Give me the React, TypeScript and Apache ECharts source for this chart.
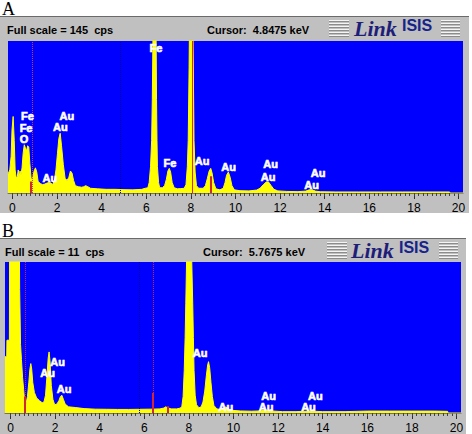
import React, { useEffect, useRef } from 'react';
import * as echarts from 'echarts';

// ---------- data ----------
const TICK_VALUES = [0, 2, 4, 6, 8, 10, 12, 14, 16, 18, 20];
const TICK_LABELS = ['0', '2', '4', '6', '8', '10', '12', '14', '16', '18', '20'];

const FULL_SCALE_A = 145;
const CURSOR_A = 4.8475;
const FULL_SCALE_B = 11;
const CURSOR_B = 5.7675;

// energy (keV), counts (cps)
const SPECTRUM_A: [number, number][] = [
  [-0.2, 18], [-0.12, 22], [-0.06, 35], [-0.02, 60], [0.03, 73], [0.08, 50], [0.12, 22], [0.17, 14],
  [0.22, 16], [0.26, 22], [0.3, 15], [0.34, 21], [0.38, 17], [0.43, 24], [0.48, 38], [0.53, 46],
  [0.58, 43], [0.63, 40], [0.68, 45], [0.73, 44], [0.78, 28], [0.84, 13], [0.9, 14], [0.97, 21],
  [1.03, 24], [1.09, 20], [1.15, 11], [1.25, 9], [1.35, 8], [1.45, 8.5], [1.55, 9.5], [1.65, 10],
  [1.72, 9.5], [1.8, 8], [1.88, 12], [1.95, 22], [2.02, 38], [2.08, 52], [2.14, 57], [2.2, 45],
  [2.28, 27], [2.36, 14], [2.45, 12], [2.53, 15], [2.6, 21], [2.67, 19], [2.74, 12], [2.82, 7],
  [2.95, 6], [3.1, 5.5], [3.2, 6], [3.28, 7], [3.38, 6], [3.5, 4.5], [3.8, 4], [4.2, 3.5],
  [4.6, 3.5], [5.0, 3.2], [5.4, 3], [5.8, 3.5], [5.95, 4.5], [6.07, 5], [6.13, 10], [6.19, 25],
  [6.24, 50], [6.27, 89], [6.31, 170], [6.35, 230], [6.41, 230], [6.44, 150], [6.46, 89], [6.48, 50],
  [6.5, 25], [6.55, 10], [6.6, 5], [6.72, 5], [6.82, 7], [6.9, 13], [6.97, 21], [7.03, 23.5],
  [7.09, 20], [7.16, 10], [7.25, 5], [7.4, 4], [7.55, 4.2], [7.7, 4.5], [7.78, 8], [7.84, 25],
  [7.88, 50], [7.92, 120], [7.96, 220], [8.04, 260], [8.09, 160], [8.14, 50], [8.19, 20], [8.25, 7],
  [8.35, 4.5], [8.55, 4.5], [8.65, 7], [8.74, 14], [8.82, 21], [8.89, 23.5], [8.95, 19], [9.02, 10],
  [9.12, 4], [9.3, 3], [9.45, 4.5], [9.53, 10], [9.6, 17], [9.68, 20], [9.76, 15], [9.84, 7],
  [9.95, 3], [10.2, 2.2], [10.6, 2], [10.95, 2.8], [11.1, 4.5], [11.25, 8], [11.38, 10.5], [11.48, 10.5],
  [11.6, 7], [11.72, 3.5], [11.9, 2], [12.3, 1.5], [12.8, 1.3], [13.15, 1.8], [13.3, 3], [13.45, 3],
  [13.58, 1.8], [13.8, 1.2], [14.5, 1], [15.5, 1], [16.5, 1], [17.5, 1], [18.5, 1], [19.6, 1],
  [19.62, 0], [20.2, 0],
];

const SPECTRUM_B: [number, number][] = [
  [-0.247, 4.1], [-0.17, 4.1], [-0.16, 5.3], [-0.05, 5.3], [-0.03, 20], [0.37, 20], [0.41, 9], [0.45, 5],
  [0.49, 3.9], [0.54, 2.6], [0.59, 1.7], [0.64, 0.7], [0.7, 0.7], [0.76, 1.2], [0.82, 2.2], [0.87, 3.2],
  [0.91, 3.6], [0.95, 3.2], [1.0, 2.2], [1.07, 1.5], [1.17, 1.1], [1.3, 0.9], [1.42, 0.75], [1.5, 0.8],
  [1.57, 1.3], [1.63, 2.6], [1.69, 4.0], [1.73, 4.45], [1.77, 3.8], [1.83, 2.0], [1.9, 1.0], [1.98, 0.6],
  [2.08, 0.65], [2.17, 0.9], [2.24, 1.2], [2.3, 1.3], [2.37, 1.0], [2.45, 0.65], [2.6, 0.45], [2.9, 0.4],
  [3.3, 0.32], [3.8, 0.28], [4.3, 0.27], [4.8, 0.26], [5.3, 0.26], [5.8, 0.27], [6.3, 0.28], [6.7, 0.3],
  [6.88, 0.36], [6.96, 0.45], [7.04, 0.38], [7.2, 0.3], [7.45, 0.3], [7.6, 0.35], [7.68, 0.45], [7.74, 1.2],
  [7.79, 3.1], [7.83, 5.5], [7.86, 8], [7.9, 11.5], [7.95, 20], [8.07, 20], [8.12, 11.5], [8.17, 8],
  [8.2, 5.5], [8.23, 3.1], [8.28, 1.3], [8.34, 0.6], [8.45, 0.38], [8.55, 0.45], [8.63, 0.8], [8.71, 1.6],
  [8.78, 2.7], [8.84, 3.5], [8.88, 3.74], [8.93, 3.3], [8.99, 2.2], [9.05, 1.2], [9.12, 0.55], [9.25, 0.3],
  [9.45, 0.25], [9.58, 0.35], [9.66, 0.45], [9.75, 0.32], [9.9, 0.2], [10.3, 0.15], [10.8, 0.13], [11.2, 0.15],
  [11.45, 0.22], [11.7, 0.15], [12.2, 0.1], [12.8, 0.1], [13.4, 0.14], [14, 0.1], [15, 0.1], [16, 0.14],
  [17, 0.14], [18, 0.14], [19, 0.14], [19.6, 0.12], [19.62, 0], [20.2, 0],
];

// peak labels: energy, cps, text
const PEAK_LABELS_A: [number, number, string][] = [
  [0.67, 73.5, 'Fe'], [0.61, 62.3, 'Fe'], [0.52, 51.2, 'O'],
  [2.44, 73.7, 'Au'], [2.15, 63.2, 'Au'], [1.68, 14.6, 'Au'],
  [6.43, 138.6, 'Fe'], [7.06, 28.9, 'Fe'], [8.5, 30.8, 'Au'], [9.69, 25.1, 'Au'],
  [11.57, 27.7, 'Au'], [11.46, 15.5, 'Au'], [13.7, 18.8, 'Au'], [13.41, 7.6, 'Au'],
];
const PEAK_LABELS_B: [number, number, string][] = [
  [2.11, 3.69, 'Au'], [1.66, 2.89, 'Au'], [2.4, 1.73, 'Au'], [8.5, 4.35, 'Au'], [9.66, 0.42, 'Au'],
  [11.57, 1.24, 'Au'], [11.46, 0.42, 'Au'], [13.67, 1.24, 'Au'], [13.36, 0.42, 'Au'],
];

// region markers (keV)
const MARKERS_A = [0.9, 8.04];
const MARKERS_B = [0.66, 6.4];
// short ROI marks: energy, height (cps)
const ROI_A: [number, number][] = [[0.82, 11], [8.9, 16]];
const ROI_B: [number, number][] = [[0.66, 1.2], [6.4, 1.45], [7.07, 0.5]];

const SANS = '"Liberation Sans", Arial, sans-serif';
const SERIF = '"Liberation Serif", "Times New Roman", serif';

function minorTicks(): number[] {
  const out: number[] = [];
  for (let i = 0; i <= 100; i++) out.push(Math.round(i * 2) / 10);
  return out;
}

function stripes(x: number, y0: number, w: number, n: number): any[] {
  const els: any[] = [];
  for (let i = 0; i < n; i++) {
    const y = y0 + i * 3;
    els.push({ type: 'rect', shape: { x, y, width: w, height: 1 }, style: { fill: '#f4f4f4' }, z: 5 });
    els.push({ type: 'rect', shape: { x, y: y + 1, width: w, height: 1 }, style: { fill: '#8c8c8c' }, z: 5 });
  }
  return els;
}

function header(
  top: number, panelW: number, panelH: number, textX: number, textY: number, cursorX: number,
  fullScale: number, cursor: number, stripeL: number, stripeR: number, linkX: number, isisX: number,
  letter: string, letterY: number,
): any[] {
  return [
    { type: 'rect', shape: { x: 0, y: top, width: panelW, height: panelH }, style: { fill: '#c0c0c0' }, z: -10 },
    { type: 'rect', shape: { x: 0, y: top, width: panelW, height: 1 }, style: { fill: '#6a6a6a' }, z: 5 },
    {
      type: 'text', x: textX, y: textY, z: 10,
      style: { text: `Full scale = ${fullScale}  cps`, font: `bold 11px ${SANS}`, fill: '#000', textAlign: 'left', textVerticalAlign: 'middle' },
    },
    {
      type: 'text', x: cursorX, y: textY, z: 10,
      style: { text: `Cursor:  ${cursor.toFixed(4)} keV`, font: `bold 11px ${SANS}`, fill: '#000', textAlign: 'left', textVerticalAlign: 'middle' },
    },
    ...stripes(stripeL, top + 4, 20, 6),
    ...stripes(stripeR, top + 4, 19, 6),
    {
      type: 'text', x: linkX, y: top + 12.5, z: 10,
      style: { text: 'Link', font: `italic bold 22px ${SERIF}`, fill: '#1e1e78', textAlign: 'left', textVerticalAlign: 'middle' },
    },
    {
      type: 'text', x: isisX, y: top + 9.5, z: 10,
      style: { text: 'ISIS', font: `bold 16px ${SANS}`, fill: '#16238a', textAlign: 'left', textVerticalAlign: 'middle' },
    },
    {
      type: 'text', x: 2, y: letterY, z: 10,
      style: { text: letter, font: `18px ${SERIF}`, fill: '#000', textAlign: 'left', textVerticalAlign: 'middle' },
    },
  ];
}

export default function App() {
  const ref = useRef<HTMLDivElement>(null);

  useEffect(() => {
    if (!ref.current) return;
    const chart = echarts.init(ref.current, undefined, { renderer: 'svg' });

    const panels = [
      {
        grid: { left: 8, top: 41, width: 455, height: 152 }, min: -0.2, max: 20.2, ymax: FULL_SCALE_A,
        spectrum: SPECTRUM_A, labels: PEAK_LABELS_A, cursor: CURSOR_A, markers: MARKERS_A, roi: ROI_A,
        markerColor: ['#cc3a6a', '#e0282c'], markerType: ['dotted', 'solid'],
      },
      {
        grid: { left: 5, top: 262, width: 456, height: 151 }, min: -0.247, max: 20.2, ymax: FULL_SCALE_B,
        spectrum: SPECTRUM_B, labels: PEAK_LABELS_B, cursor: CURSOR_B, markers: MARKERS_B, roi: ROI_B,
        markerColor: ['#d02050', '#d02050'], markerType: ['dotted', 'dotted'],
      },
    ];

    const MINOR = minorTicks();
    const xAxis: any[] = [];
    const yAxis: any[] = [];
    const series: any[] = [];

    panels.forEach((p, i) => {
      xAxis.push({
        type: 'value', gridIndex: i, min: p.min, max: p.max, position: 'bottom',
        axisLine: { show: true, lineStyle: { color: '#707070', width: 1 } },
        axisTick: { show: true, customValues: TICK_VALUES, length: 6, lineStyle: { color: '#303030' } },
        axisLabel: {
          show: true, customValues: TICK_VALUES, margin: 9, color: '#000', fontSize: 12, fontFamily: SANS,
          formatter: (v: number) => {
            const k = TICK_VALUES.indexOf(v);
            return k >= 0 ? TICK_LABELS[k] : '';
          },
        },
        splitLine: { show: false },
      });
      xAxis.push({
        type: 'value', gridIndex: i, min: p.min, max: p.max, position: 'bottom', offset: 0,
        axisLine: { show: false },
        axisTick: { show: true, customValues: MINOR, length: 3, lineStyle: { color: '#404040' } },
        axisLabel: { show: false },
        splitLine: { show: false },
      });
      yAxis.push({ type: 'value', gridIndex: i, min: 0, max: p.ymax, show: false, splitLine: { show: false } });

      const markData: any[] = [
        { xAxis: p.cursor, lineStyle: { color: '#00009a', type: 'dotted', width: 1 } },
        ...p.markers.map((m, k) => ({ xAxis: m, lineStyle: { color: p.markerColor[k], type: p.markerType[k], width: 1 } })),
        ...p.roi.map(([e, h]) => [
          { coord: [e, 0], lineStyle: { color: '#d02838', type: 'solid', width: 2 } },
          { coord: [e, h], lineStyle: { color: '#d02838', type: 'solid', width: 2 } },
        ]),
      ];

      series.push({
        type: 'line', xAxisIndex: i * 2, yAxisIndex: i, data: p.spectrum,
        showSymbol: false, symbol: 'none', clip: true, silent: true,
        lineStyle: { color: '#ffff00', width: 1 },
        areaStyle: { color: '#ffff00', opacity: 1, origin: 'start' },
        markLine: {
          silent: true, symbol: ['none', 'none'], label: { show: false }, animation: false,
          data: markData,
        },
        z: 2,
      });
      series.push({
        type: 'scatter', xAxisIndex: i * 2, yAxisIndex: i, silent: true,
        data: p.labels.map(([e, c, t]) => ({ value: [e, c], name: t })),
        symbol: 'circle', symbolSize: 1, itemStyle: { color: 'rgba(0,0,0,0)' },
        label: {
          show: true, position: 'inside', formatter: '{b}', color: '#ffffff', opacity: 1,
          fontSize: 11, fontWeight: 'bold', fontFamily: SANS,
          textBorderWidth: 0.6, textBorderColor: '#ffffff', textShadowBlur: 0,
        },
        z: 5,
      });
    });

    const graphic = [
      ...header(16, 469, 197, 7, 30, 207, FULL_SCALE_A, CURSOR_A, 329, 441, 354, 402, 'A', 9),
      ...header(238, 466, 196, 5, 251.5, 203, FULL_SCALE_B, CURSOR_B, 327, 439, 351, 399, 'B', 231),
    ];

    chart.setOption({
      animation: false,
      backgroundColor: '#ffffff',
      textStyle: { fontFamily: SANS },
      grid: panels.map((p) => ({ ...p.grid, show: true, backgroundColor: '#0000ff', borderWidth: 0, containLabel: false })),
      xAxis,
      yAxis,
      series,
      graphic,
    });

    return () => chart.dispose();
  }, []);

  return <div ref={ref} style={{ position: 'absolute', left: 0, top: 0, width: 472, height: 434 }} />;
}
